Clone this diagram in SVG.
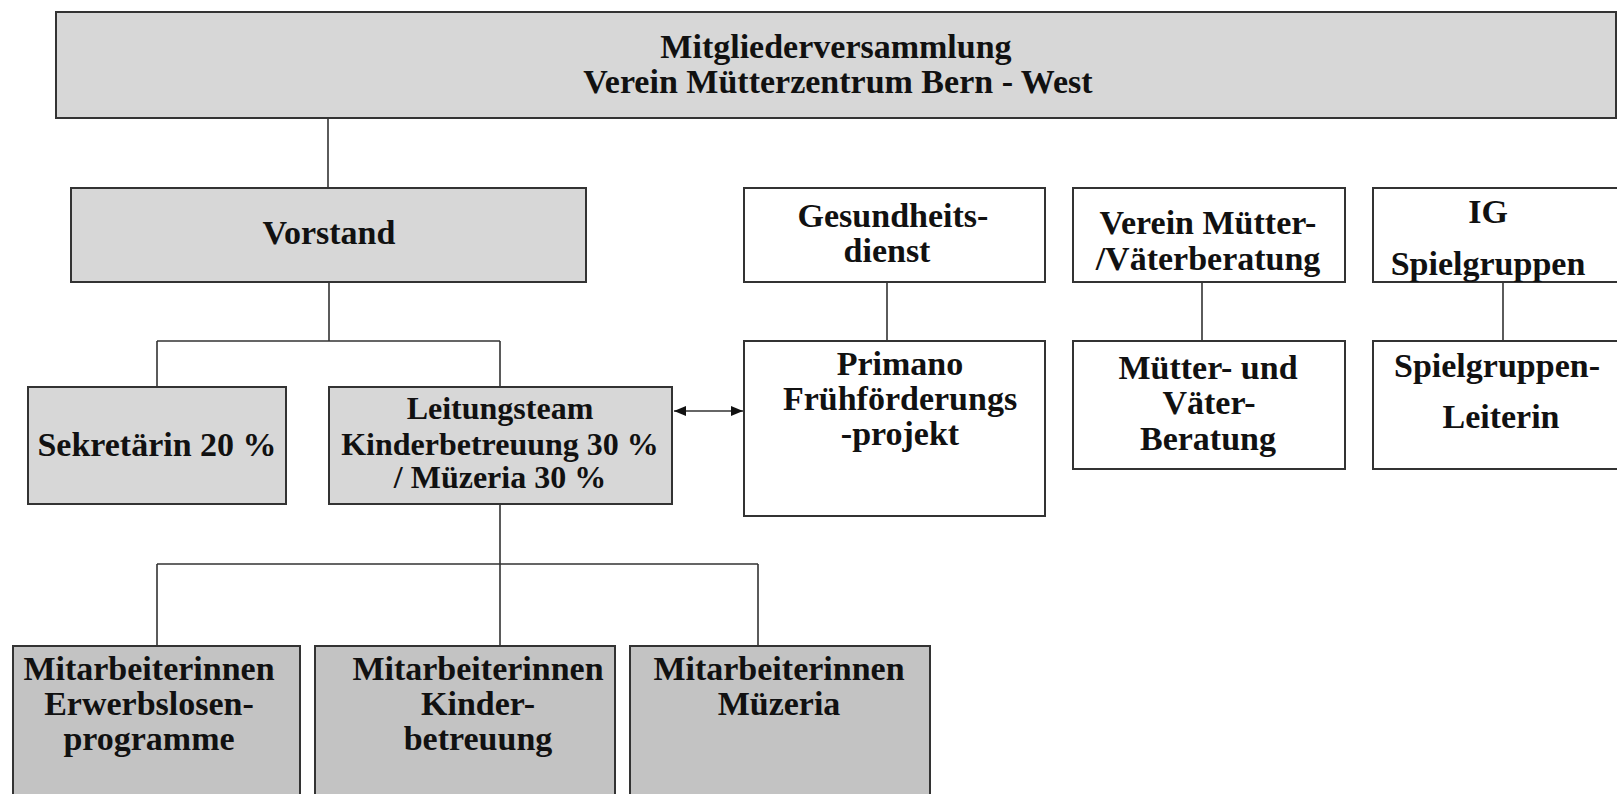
<svg xmlns="http://www.w3.org/2000/svg" width="1617" height="794" viewBox="0 0 1617 794">
  <style>
    .box { stroke: #333333; stroke-width: 2; }
    .g1 { fill: #d7d7d7; }
    .g2 { fill: #c3c3c3; }
    .w { fill: #ffffff; }
    .t { font-family: "Liberation Serif", "Times New Roman", serif; font-weight: bold; font-size: 34px; fill: #111111; text-anchor: middle; }
    .s { font-size: 32px; }
    .c { stroke: #333333; stroke-width: 1.6; fill: none; }
  </style>
  <defs>
    <marker id="ah" viewBox="0 0 12 10" refX="12" refY="5" markerWidth="12" markerHeight="10" markerUnits="userSpaceOnUse" orient="auto-start-reverse">
      <path d="M0,0 L12,5 L0,10 Z" fill="#111111"/>
    </marker>
  </defs>
  <rect width="1617" height="794" fill="#ffffff"/>

  <g id="connectors">
    <path class="c" d="M328,118 V188"/>
    <path class="c" d="M329,282 V341 M157,341 H500 M157,341 V387 M500,341 V387"/>
    <path class="c" d="M500,504 V564 M157,564 H758 M157,564 V646 M500,564 V646 M758,564 V646"/>
    <path class="c" d="M887,282 V341"/>
    <path class="c" d="M1202,282 V341"/>
    <path class="c" d="M1503,282 V341"/>
    <path class="c" d="M674,411 H743" marker-start="url(#ah)" marker-end="url(#ah)"/>
  </g>

  <g id="mitgliederversammlung">
    <rect class="box g1" x="56" y="12" width="1560" height="106"/>
    <text class="t" x="836" y="58">Mitgliederversammlung</text>
    <text class="t" x="838" y="93">Verein Mütterzentrum Bern - West</text>
  </g>

  <g id="vorstand">
    <rect class="box g1" x="71" y="188" width="515" height="94"/>
    <text class="t" x="329" y="244">Vorstand</text>
  </g>

  <g id="sekretaerin">
    <rect class="box g1" x="28" y="387" width="258" height="117"/>
    <text class="t" x="157" y="456">Sekretärin 20 %</text>
  </g>

  <g id="leitungsteam">
    <rect class="box g1" x="329" y="387" width="343" height="117"/>
    <text class="t s" x="500" y="419">Leitungsteam</text>
    <text class="t s" x="500" y="455">Kinderbetreuung 30 %</text>
    <text class="t s" x="500" y="488">/ Müzeria 30 %</text>
  </g>

  <g id="gesundheitsdienst">
    <rect class="box w" x="744" y="188" width="301" height="94"/>
    <text class="t" x="893" y="227">Gesundheits-</text>
    <text class="t" x="887" y="262">dienst</text>
  </g>

  <g id="primano">
    <rect class="box w" x="744" y="341" width="301" height="175"/>
    <text class="t" x="900" y="375">Primano</text>
    <text class="t" x="900" y="410">Frühförderungs</text>
    <text class="t" x="900" y="445">-projekt</text>
  </g>

  <g id="verein-muetter-vaeterberatung">
    <rect class="box w" x="1073" y="188" width="272" height="94"/>
    <text class="t" x="1208" y="234">Verein Mütter-</text>
    <text class="t" x="1208" y="270">/Väterberatung</text>
  </g>

  <g id="muetter-vaeter-beratung">
    <rect class="box w" x="1073" y="341" width="272" height="128"/>
    <text class="t" x="1208" y="379">Mütter- und</text>
    <text class="t" x="1209" y="414">Väter-</text>
    <text class="t" x="1208" y="450">Beratung</text>
  </g>

  <g id="ig-spielgruppen">
    <rect class="box w" x="1373" y="188" width="250" height="94"/>
    <text class="t" x="1488" y="223">IG</text>
    <text class="t" x="1488" y="275">Spielgruppen</text>
  </g>

  <g id="spielgruppenleiterin">
    <rect class="box w" x="1373" y="341" width="250" height="128"/>
    <text class="t" x="1497" y="377">Spielgruppen-</text>
    <text class="t" x="1501" y="428">Leiterin</text>
  </g>

  <g id="ma-erwerbslosen">
    <rect class="box g2" x="13" y="646" width="287" height="160"/>
    <text class="t" x="149" y="680">Mitarbeiterinnen</text>
    <text class="t" x="149" y="715">Erwerbslosen-</text>
    <text class="t" x="149" y="750">programme</text>
  </g>

  <g id="ma-kinderbetreuung">
    <rect class="box g2" x="315" y="646" width="300" height="160"/>
    <text class="t" x="478" y="680">Mitarbeiterinnen</text>
    <text class="t" x="478" y="715">Kinder-</text>
    <text class="t" x="478" y="750">betreuung</text>
  </g>

  <g id="ma-muezeria">
    <rect class="box g2" x="630" y="646" width="300" height="160"/>
    <text class="t" x="779" y="680">Mitarbeiterinnen</text>
    <text class="t" x="779" y="715">Müzeria</text>
  </g>
</svg>
